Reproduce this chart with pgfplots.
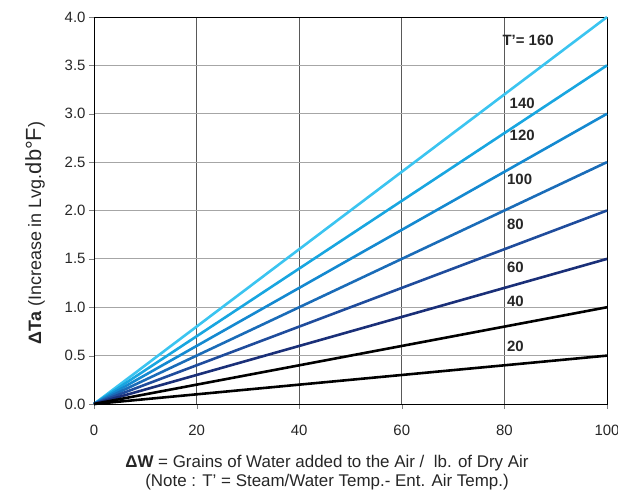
\documentclass[border=0pt]{standalone}
\usepackage{fontspec}
\setmainfont{Liberation Sans}
\usepackage{pgfplots}
\pgfplotsset{compat=1.18}
\definecolor{c160}{HTML}{3BC4F0}
\definecolor{c140}{HTML}{18A6E0}
\definecolor{c120}{HTML}{1489D0}
\definecolor{c100}{HTML}{1A6CB8}
\definecolor{c80}{HTML}{1F4C9C}
\definecolor{c60}{HTML}{1A2F78}
\begin{document}
\begin{tikzpicture}[x=1bp,y=1bp]
\useasboundingbox (-94bp,-87bp) rectangle (524bp,404bp);
\begin{axis}[
  at={(0,0)}, anchor=south west,
  scale only axis, width=513bp, height=387bp,
  xmin=0, xmax=100, ymin=0, ymax=4,
  xtick={0,20,...,100}, ytick={0,0.5,...,4},
  yticklabel style={/pgf/number format/fixed,/pgf/number format/fixed zerofill,/pgf/number format/precision=1},
  /pgf/number format/assume math mode=true,
  tick label style={font=\fontsize{15}{17}\selectfont, color=black!85},
  tick align=outside, tick pos=left,
  major tick length=5bp,
  grid=major,
  x grid style={black!65, line width=0.9pt},
  y grid style={gray!70, line width=0.9pt},
  axis line style={black, line width=0.9pt},
  xticklabel style={yshift=-13bp},
  clip=false,
]
\addplot[c160, line width=2.6pt] coordinates {(0,0) (100,4.0)};
\addplot[c140, line width=2.6pt] coordinates {(0,0) (100,3.5)};
\addplot[c120, line width=2.6pt] coordinates {(0,0) (100,3.0)};
\addplot[c100, line width=2.6pt] coordinates {(0,0) (100,2.5)};
\addplot[c80, line width=2.6pt] coordinates {(0,0) (100,2.0)};
\addplot[c60, line width=2.6pt] coordinates {(0,0) (100,1.5)};
\addplot[black, line width=2.6pt] coordinates {(0,0) (100,1.0)};
\addplot[black, line width=2.6pt] coordinates {(0,0) (100,0.5)};
\begin{scope}[every node/.style={font=\fontsize{15}{17}\selectfont\bfseries, text=black!85, anchor=west, inner sep=0pt}]
\node at (axis cs:79.6,3.76) {T'= 160};
\node at (axis cs:81,3.11) {140};
\node at (axis cs:81,2.78) {120};
\node at (axis cs:80.5,2.32) {100};
\node at (axis cs:80.5,1.86) {80};
\node at (axis cs:80.5,1.41) {60};
\node at (axis cs:80.5,1.06) {40};
\node at (axis cs:80.5,0.60) {20};
\end{scope}
\end{axis}
\node[rotate=90, font=\fontsize{18}{20}\selectfont, text=black!85] at (-59bp,171bp) {\textbf{ΔTa} (Increase in Lvg.{\fontsize{22}{24}\selectfont db°F})};
\node[font=\fontsize{17}{19}\selectfont, text=black!85, align=center] at (233bp,-69bp) {\textbf{ΔW} = Grains of Water added to the Air /\ \ lb. of Dry Air\\(Note : T' = Steam/Water Temp.- Ent. Air Temp.)};
\end{tikzpicture}
\end{document}
